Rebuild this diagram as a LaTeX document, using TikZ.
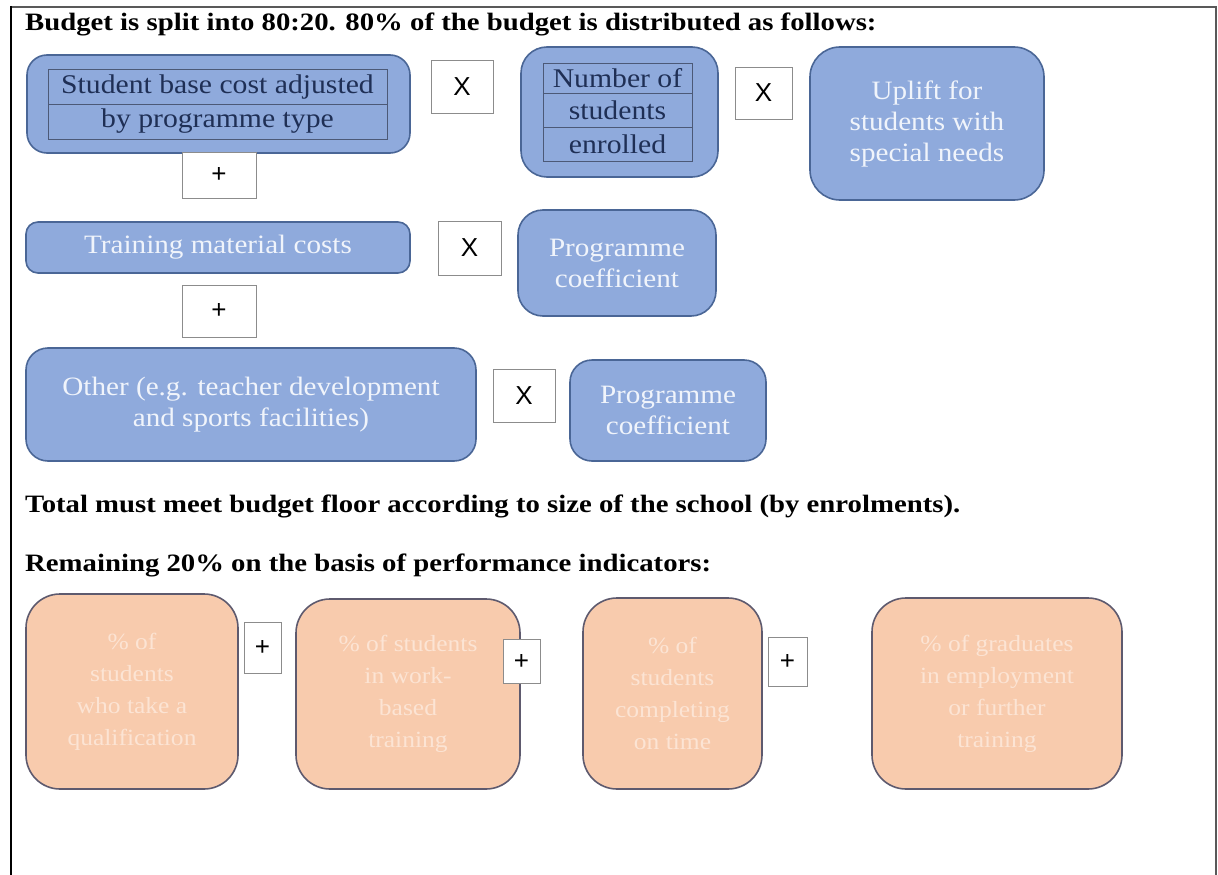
\documentclass[tikz,border=0pt]{standalone}
\usepackage{fontspec}
\setmainfont{Liberation Serif}[FakeStretch=1.1]
\newfontfamily\headfont{Liberation Serif}[FakeStretch=1.15]
\newfontfamily\opsans{Liberation Sans}
\definecolor{boxblue}{HTML}{8FAADC}
\definecolor{edgeblue}{HTML}{4A6696}
\definecolor{lightblue}{HTML}{F0F4FB}
\definecolor{navy}{HTML}{1F2F55}
\definecolor{boxpeach}{HTML}{F8CBAD}
\definecolor{edgepeach}{HTML}{5E5A6E}
\definecolor{peachtext}{HTML}{FCE4D4}
\definecolor{opedge}{HTML}{8C8C8C}
\tikzset{
  bluebox/.style={draw=edgeblue, line width=1.6pt, fill=boxblue, text=lightblue,
    align=center, inner sep=0pt, font=\fontsize{26.5}{31}\selectfont},
  rowcell/.style={draw=navy!80, line width=1pt, inner sep=0pt, text=navy,
    font=\fontsize{27}{30}\selectfont},
  peachbox/.style={draw=edgepeach, line width=1.6pt, fill=boxpeach, text=peachtext,
    align=center, inner sep=0pt, rounded corners=34pt, font=\fontsize{23.2}{32}\selectfont},
  opbox/.style={draw=opedge, line width=0.9pt, fill=white, inner sep=0pt,
    font=\opsans\fontsize{26}{28}\selectfont},
  heading/.style={anchor=base west, inner sep=0pt, font=\headfont\bfseries\fontsize{25}{28}\selectfont}
}
\begin{document}
\begin{tikzpicture}[x=1pt,y=-1pt]
\useasboundingbox (0,0) rectangle (1218,875);
% page frame
\draw[line width=1.8pt, gray!70!black] (11,7) -- (1216,7) -- (1216,875);
\draw[line width=2.6pt, black] (11,6) -- (11,875);

% headings
\node[heading] (h1) at (25,31) {Budget is split into 80:20. 80\% of the budget is distributed as follows:};
\node[heading] (h2) at (25,512) {Total must meet budget floor according to size of the school (by enrolments).};
\node[heading] (h3) at (25,571) {Remaining 20\% on the basis of performance indicators:};

% first row
\node[bluebox, rounded corners=20pt, minimum width=383pt, minimum height=98pt] (base) at (218.5,104) {};
\node[rowcell, minimum width=339pt, minimum height=34pt] (base1) at (217.5,87) {Student base cost adjusted};
\node[rowcell, minimum width=339pt, minimum height=35pt] (base2) at (217.5,121.5) {by programme type};

\node[opbox, minimum width=62pt, minimum height=53pt] (x1) at (462,86.5) {X};

\node[bluebox, rounded corners=26pt, minimum width=197pt, minimum height=130pt] (num) at (619.5,112) {};
\node[rowcell, minimum width=149pt, minimum height=29pt] (num1) at (617.5,78.5) {Number of};
\node[rowcell, minimum width=149pt, minimum height=34pt] (num2) at (617.5,110) {students};
\node[rowcell, minimum width=149pt, minimum height=34pt] (num3) at (617.5,144) {enrolled};

\node[opbox, minimum width=57pt, minimum height=52pt] (x2) at (763.5,93) {X};

\node[bluebox, rounded corners=30pt, minimum width=234pt, minimum height=153pt] (uplift) at (927,123.5)
  {Uplift for\\students with\\special needs};

\node[opbox, minimum width=74pt, minimum height=46pt] (p1) at (219,175) {+};

% second row
\node[bluebox, rounded corners=12pt, minimum width=384pt, minimum height=51pt] (train) at (218,247.5)
  {Training material costs};
\node[opbox, minimum width=63pt, minimum height=54pt] (x3) at (469.5,248) {X};
\node[bluebox, rounded corners=25pt, minimum width=198pt, minimum height=106pt] (coef1) at (617,263)
  {Programme\\coefficient};

\node[opbox, minimum width=74pt, minimum height=52pt] (p2) at (219,311) {+};

% third row
\node[bluebox, rounded corners=22pt, minimum width=450pt, minimum height=113pt] (other) at (251,404.5)
  {Other (e.g. teacher development\\and sports facilities)};
\node[opbox, minimum width=62pt, minimum height=53pt] (x4) at (524,395.5) {X};
\node[bluebox, rounded corners=22pt, minimum width=196pt, minimum height=101pt] (coef2) at (668,410.5)
  {Programme\\coefficient};

% performance indicators
\node[peachbox, minimum width=212pt, minimum height=195pt] (q1) at (132,691.5)
  {\%\ of\\students\\who take a\\qualification};
\node[opbox, minimum width=37pt, minimum height=51pt] (p3) at (262.5,647.5) {+};
\node[peachbox, minimum width=224pt, minimum height=190pt] (q2) at (408,694)
  {\%\ of students\\in work-\\based\\training};
\node[opbox, minimum width=37pt, minimum height=44pt] (p4) at (521.5,661.5) {+};
\node[peachbox, minimum width=179pt, minimum height=191pt] (q3) at (672.5,693.5)
  {\%\ of\\students\\completing\\on time};
\node[opbox, minimum width=39pt, minimum height=49pt] (p5) at (787.5,661.5) {+};
\node[peachbox, minimum width=250pt, minimum height=191pt] (q4) at (997,693.5)
  {\%\ of graduates\\in employment\\or further\\training};
\end{tikzpicture}
\end{document}
